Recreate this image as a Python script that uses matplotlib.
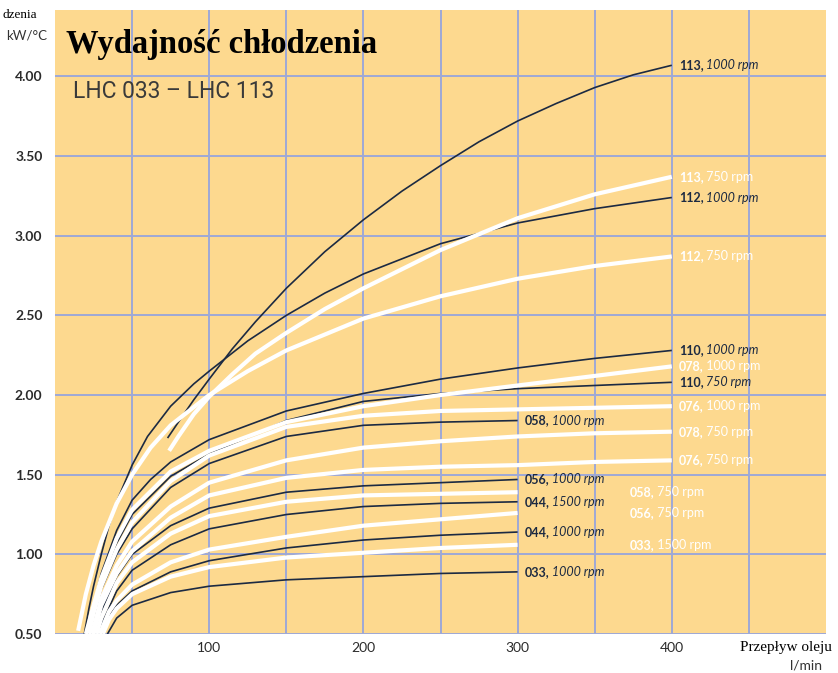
import matplotlib.pyplot as plt

# Wartosci: przeplyw oleju (l/min) -> wydajnosc (kW/°C)
x_113_1000 = [73, 80, 90, 100, 115, 130, 150, 175, 200, 225, 250, 275, 300, 325, 350, 375, 400]
y_113_1000 = [1.73, 1.83, 1.97, 2.10, 2.29, 2.46, 2.67, 2.90, 3.10, 3.28, 3.44, 3.59, 3.72, 3.83, 3.93, 4.01, 4.07]
x_112_1000 = [19, 22, 25, 30, 35, 40, 50, 60, 75, 90, 100, 125, 150, 175, 200, 250, 300, 350, 400]
y_112_1000 = [0.50, 0.66, 0.80, 1.00, 1.18, 1.33, 1.56, 1.74, 1.93, 2.07, 2.15, 2.34, 2.50, 2.64, 2.76, 2.95, 3.08, 3.17, 3.24]
x_110_1000 = [21, 25, 30, 40, 50, 62, 75, 100, 150, 200, 250, 300, 350, 400]
y_110_1000 = [0.50, 0.68, 0.88, 1.15, 1.34, 1.47, 1.58, 1.72, 1.90, 2.01, 2.10, 2.17, 2.23, 2.28]
x_110_750 = [22, 25, 30, 40, 50, 75, 100, 150, 200, 250, 300, 350, 400]
y_110_750 = [0.50, 0.64, 0.83, 1.07, 1.25, 1.49, 1.63, 1.84, 1.96, 2.01, 2.04, 2.06, 2.08]
x_058_1000 = [23, 25, 30, 40, 50, 75, 100, 150, 200, 250, 300]
y_058_1000 = [0.50, 0.60, 0.78, 1.00, 1.16, 1.42, 1.57, 1.74, 1.81, 1.83, 1.84]
x_056_1000 = [26, 30, 40, 50, 75, 100, 150, 200, 250, 300]
y_056_1000 = [0.50, 0.64, 0.86, 1.00, 1.18, 1.29, 1.39, 1.43, 1.45, 1.47]
x_044_1500 = [28, 30, 40, 50, 75, 100, 150, 200, 250, 300]
y_044_1500 = [0.50, 0.56, 0.77, 0.90, 1.06, 1.16, 1.25, 1.30, 1.32, 1.33]
x_044_1000 = [30, 35, 40, 50, 75, 100, 150, 200, 250, 300]
y_044_1000 = [0.50, 0.61, 0.68, 0.77, 0.89, 0.96, 1.04, 1.09, 1.12, 1.14]
x_033_1000 = [34, 40, 50, 75, 100, 150, 200, 250, 300]
y_033_1000 = [0.50, 0.60, 0.68, 0.76, 0.80, 0.84, 0.86, 0.88, 0.89]

x_113_750 = [74, 80, 90, 100, 115, 130, 150, 175, 200, 250, 300, 350, 400]
y_113_750 = [1.65, 1.74, 1.88, 1.99, 2.13, 2.26, 2.39, 2.54, 2.67, 2.91, 3.11, 3.26, 3.37]
x_112_750 = [15, 20, 25, 30, 40, 50, 62, 75, 100, 125, 150, 200, 250, 300, 350, 400]
y_112_750 = [0.52, 0.75, 0.93, 1.08, 1.32, 1.50, 1.67, 1.81, 2.00, 2.15, 2.28, 2.48, 2.62, 2.73, 2.81, 2.87]
x_078_1000 = [20, 25, 30, 40, 50, 75, 100, 150, 200, 250, 300, 350, 400]
y_078_1000 = [0.50, 0.68, 0.85, 1.10, 1.28, 1.52, 1.65, 1.83, 1.93, 2.00, 2.06, 2.12, 2.18]
x_076_1000 = [22, 25, 30, 40, 50, 75, 100, 150, 200, 250, 300, 350, 400]
y_076_1000 = [0.50, 0.63, 0.80, 1.03, 1.20, 1.46, 1.62, 1.80, 1.87, 1.90, 1.91, 1.92, 1.93]
x_078_750 = [24, 30, 40, 50, 75, 100, 150, 200, 250, 300, 350, 400]
y_078_750 = [0.50, 0.72, 0.93, 1.08, 1.30, 1.45, 1.59, 1.67, 1.71, 1.74, 1.76, 1.77]
x_076_750 = [25, 30, 40, 50, 75, 100, 150, 200, 250, 300, 350, 400]
y_076_750 = [0.50, 0.68, 0.88, 1.02, 1.23, 1.37, 1.48, 1.53, 1.55, 1.56, 1.58, 1.59]
x_058_750 = [27, 30, 40, 50, 75, 100, 150, 200, 250, 300]
y_058_750 = [0.50, 0.60, 0.82, 0.95, 1.13, 1.24, 1.33, 1.37, 1.38, 1.39]
x_056_750 = [29, 35, 40, 50, 75, 100, 150, 200, 250, 300]
y_056_750 = [0.50, 0.64, 0.71, 0.81, 0.95, 1.03, 1.11, 1.18, 1.22, 1.26]
x_033_1500 = [31, 35, 40, 50, 75, 100, 150, 200, 250, 300]
y_033_1500 = [0.50, 0.59, 0.66, 0.75, 0.86, 0.92, 0.98, 1.01, 1.04, 1.06]

# (model, obroty, x, y)
dark_series = [
    ('113', '1000', x_113_1000, y_113_1000),
    ('112', '1000', x_112_1000, y_112_1000),
    ('110', '1000', x_110_1000, y_110_1000),
    ('110', '750', x_110_750, y_110_750),
    ('058', '1000', x_058_1000, y_058_1000),
    ('056', '1000', x_056_1000, y_056_1000),
    ('044', '1500', x_044_1500, y_044_1500),
    ('044', '1000', x_044_1000, y_044_1000),
    ('033', '1000', x_033_1000, y_033_1000),
]
white_series = [
    ('113', '750', x_113_750, y_113_750),
    ('112', '750', x_112_750, y_112_750),
    ('078', '1000', x_078_1000, y_078_1000),
    ('076', '1000', x_076_1000, y_076_1000),
    ('078', '750', x_078_750, y_078_750),
    ('076', '750', x_076_750, y_076_750),
    ('058', '750', x_058_750, y_058_750),
    ('056', '750', x_056_750, y_056_750),
    ('033', '1500', x_033_1500, y_033_1500),
]
# te trzy opisy stoja dalej od konca krzywej
far_labels = [('058', '750'), ('056', '750'), ('033', '1500')]

x_ticks = [50, 100, 150, 200, 250, 300, 350, 400, 450]
x_ticklabels = ['', '100', '', '200', '', '300', '', '400', '']
y_ticks = [0.5, 1.0, 1.5, 2.0, 2.5, 3.0, 3.5, 4.0]
y_ticklabels = ['0.50', '1.00', '1.50', '2.00', '2.50', '3.00', '3.50', '4.00']

navy = '#1c2a42'
bg = '#fdd98f'
grid_col = '#9ea8d6'
sans = ['Lato', 'DejaVu Sans']
serif = ['Liberation Serif', 'DejaVu Serif']

W, H = 838, 673
fig = plt.figure(figsize=(W / 100, H / 100), dpi=100)
ax = fig.add_axes([55 / W, 1 - 634 / H, 771 / W, 624 / H])
ax.set_facecolor(bg)
ax.set_xlim(0, 500)
ax.set_ylim(0.5, 4.417)

ax.set_xticks(x_ticks)
ax.set_xticklabels(x_ticklabels, fontsize=10, family=sans, color='#2b2b2b')
ax.set_yticks(y_ticks)
ax.set_yticklabels(y_ticklabels, fontsize=10, family=sans, fontweight='bold', color='#2b2b2b')
ax.tick_params(axis='x', length=0, pad=6)
ax.tick_params(axis='y', length=0, pad=9)
ax.grid(True, color=grid_col, linewidth=1.4)
ax.set_axisbelow(True)
for s in ax.spines.values():
    s.set_visible(False)

def add_label(x, y, model, rpm, color, italic):
    t = ax.annotate(model + ',', xy=(x, y), xytext=(5, 0), textcoords='offset points',
                    ha='left', va='center', fontsize=9, family=sans, fontweight='bold',
                    color=color, annotation_clip=False)
    ax.annotate(' ' + rpm + ' rpm', xy=(1, 0), xycoords=t, ha='left', va='bottom',
                fontsize=9, family=sans, style='italic' if italic else 'normal',
                color=color, annotation_clip=False)

for model, rpm, xs, ys in dark_series:
    ax.plot(xs, ys, color=navy, linewidth=1.2, solid_capstyle='butt', zorder=3)
    add_label(xs[-1], ys[-1], model, rpm, navy, True)

for model, rpm, xs, ys in white_series:
    ax.plot(xs, ys, color='white', linewidth=3.0, solid_capstyle='butt', zorder=4)
    lx = 368 if (model, rpm) in far_labels else xs[-1]
    add_label(lx, ys[-1], model, rpm, 'white', False)

# tytuly i opisy osi
fig.text(66 / W, 1 - 45 / H, 'Wydajność chłodzenia', ha='left', va='center',
         fontsize=23.5, fontweight='bold', family=serif, color='black')
fig.text(73 / W, 1 - 92 / H, 'LHC 033 – LHC 113', ha='left', va='center',
         fontsize=16.5, family=['Roboto', 'DejaVu Sans'], color='#3a3a3a')
fig.text(37 / W, 1 - 15 / H, 'dzenia', ha='right', va='center',
         fontsize=9.5, family=serif, color='black')
fig.text(6 / W, 1 - 36 / H, 'kW/°C', ha='left', va='center', fontsize=9.5,
         family=sans, color='#333333')
fig.text(740 / W, 1 - 648 / H, 'Przepływ oleju', ha='left', va='center',
         fontsize=11, family=serif, color='black')
fig.text(822 / W, 1 - 665 / H, 'l/min', ha='right', va='center', fontsize=10,
         family=sans, color='#333333')

fig.savefig('out.png', dpi=100)
